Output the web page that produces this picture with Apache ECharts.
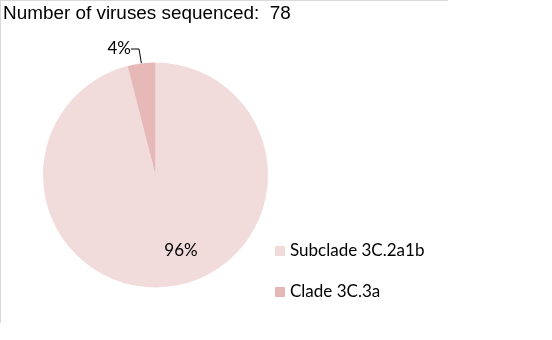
<!DOCTYPE html>
<html><head><meta charset="utf-8">
<script src="https://cdn.jsdelivr.net/npm/echarts@6/dist/echarts.min.js"></script>
<style>html,body{margin:0;padding:0;background:#fff}#c{width:552px;height:340px}</style>
</head><body><div id="c"></div>
<script>
var categories = ['Subclade 3C.2a1b', 'Clade 3C.3a'];
var values = [96, 4];
var colors = ['#f2dcdb', '#e6b9b8'];
var titleText = 'Number of viruses sequenced:  78';

var chart = echarts.init(document.getElementById('c'));
var data = categories.map(function (n, i) {
  var d = { name: n, value: values[i], itemStyle: { color: colors[i] } };
  if (i === 0) d.labelLine = { show: false };
  return d;
});
chart.setOption({
  animation: false,
  title: { text: titleText, left: 3, top: 4, padding: 0,
    textStyle: { fontFamily: 'Liberation Sans', fontSize: 18.9, fontWeight: 'normal', color: '#000' } },
  legend: {
    orient: 'vertical', left: 275, top: 241, padding: 0, itemWidth: 10, itemHeight: 10, itemGap: 21,
    icon: 'rect', data: categories,
    textStyle: { fontFamily: 'Lato', fontSize: 17, color: '#000', lineHeight: 20 }
  },
  graphic: [
    { type: 'line', shape: { x1: 0, y1: 0.5, x2: 448, y2: 0.5 }, style: { stroke: '#d9d9d9', lineWidth: 1 } },
    { type: 'line', shape: { x1: 0.5, y1: 0, x2: 0.5, y2: 323 }, style: { stroke: '#d9d9d9', lineWidth: 1 } }
  ],
  series: [{
    type: 'pie', center: [155.5, 175], radius: [0, 112.5], startAngle: 90, clockwise: true,
    data: data,
    label: { show: true, formatter: '{c}%', fontFamily: 'Lato', fontSize: 17, color: '#000', position: 'outside' },
    labelLine: { show: true, length: 8, length2: 8, lineStyle: { color: '#000', width: 1 } },
    labelLayout: function (p) {
      if (p.dataIndex === 0) return { x: 181, y: 251, align: 'center', verticalAlign: 'middle' };
      return { x: 131, y: 49, align: 'right', verticalAlign: 'middle' };
    },
    emphasis: { disabled: true }
  }]
});
</script></body></html>
